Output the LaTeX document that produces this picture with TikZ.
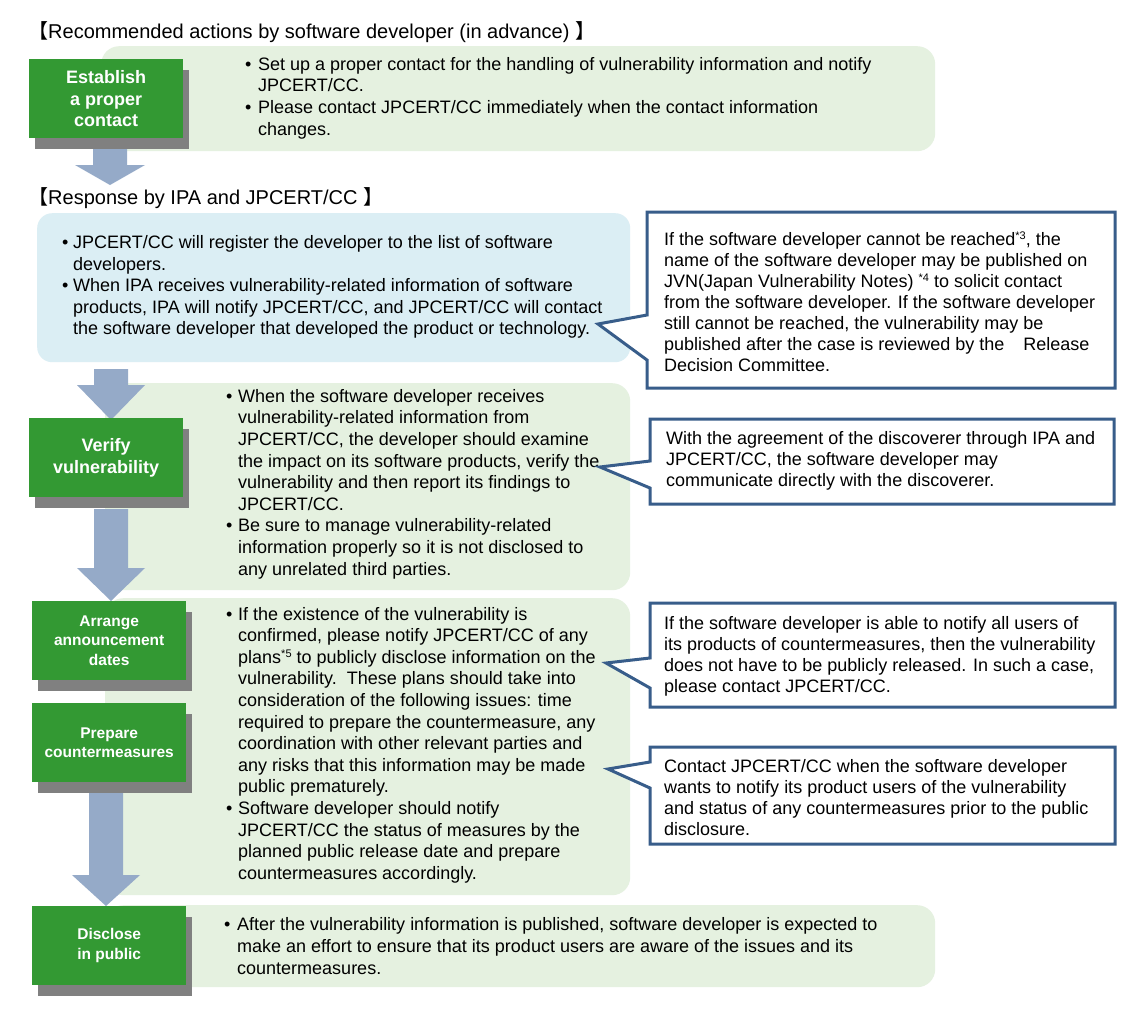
\documentclass[tikz,border=0pt]{standalone}
\usepackage{fontspec}
\setmainfont{Liberation Sans}
\newfontfamily\cjk{Noto Sans CJK JP}
\usetikzlibrary{calc,shadows}
\definecolor{gfill}{RGB}{51,153,51}
\definecolor{shgray}{RGB}{128,128,128}
\definecolor{arrcol}{RGB}{149,170,200}
\definecolor{lgreen}{RGB}{229,241,224}
\definecolor{lblue}{RGB}{219,238,244}
\definecolor{cline}{RGB}{56,93,138}
\newcommand\bul[1]{\makebox[#1][l]{•}}
\newcommand\supr[1]{\raisebox{6pt}{\fontsize{11}{11}\selectfont #1}}
\newcommand\bigarrowdraw[4]{\fill[arrcol] ($(#1)+(-17,0)$) -- ($(#1)+(17,0)$) -- ($(#2)+(17,-#3)$) -- ($(#2)+(#4,-#3)$) -- (#2) -- ($(#2)+(-#4,-#3)$) -- ($(#2)+(-17,-#3)$) -- cycle;}
\newcommand\calloutpath[1]{\draw[callout] (#1nw) -- (#1nw -| #1se) -- (#1se) -- (#1se -| #1nw) -- (#1l) -- (#1tip) -- (#1u) -- cycle;}
\begin{document}
\begin{tikzpicture}[x=1pt,y=-1pt,
  lgbox/.style={fill=lgreen, rounded corners=18pt, inner sep=0pt, anchor=north west},
  bbox/.style={fill=lblue, rounded corners=15pt, inner sep=0pt, anchor=north west},
  gnode/.style={fill=gfill, text=white, align=center, inner sep=0pt, anchor=north west, minimum width=154pt, minimum height=79pt, drop shadow={shadow xshift=6pt, shadow yshift=-11pt, fill=shgray, opacity=1}},
  gbig/.style={gnode, font=\bfseries\fontsize{18}{21.5}\selectfont},
  gsmall/.style={gnode, font=\bfseries\fontsize{15.5}{19.5}\selectfont},
  btext/.style={anchor=west, align=left, inner sep=0pt, font=\fontsize{18}{21.6}\selectfont},
  ctext/.style={anchor=west, align=left, inner sep=0pt, font=\fontsize{18}{21}\selectfont},
  hdr/.style={anchor=west, inner sep=0pt, font=\fontsize{20}{24}\selectfont},
  callout/.style={draw=cline, line width=3pt, fill=white, line join=miter},
]
\useasboundingbox[fill=white] (0,0) rectangle (1145,1023);

% headers
\node[hdr] (h1) at (28,32) {{\cjk 【}Recommended actions by software developer (in advance) {\cjk 】}};
\node[hdr] (h2) at (28,198) {{\cjk 【}Response by IPA and JPCERT/CC {\cjk 】}};

% background boxes
\node[lgbox, minimum width=834pt, minimum height=105pt] (b1) at (101,46) {};
\node[bbox, minimum width=593pt, minimum height=149pt] (bb) at (37,213) {};
\node[lgbox, minimum width=525pt, minimum height=207pt] (b2) at (105,383) {};
\node[lgbox, minimum width=525pt, minimum height=297pt] (b3) at (105,598) {};
\node[lgbox, minimum width=830pt, minimum height=82pt] (b5) at (105,905) {};

% flow arrows
\coordinate (a1s) at (110,149); \coordinate (a1e) at (110,185);
\coordinate (a2s) at (111,369); \coordinate (a2e) at (111,420);
\coordinate (a3s) at (111,509); \coordinate (a3e) at (111,601);
\coordinate (a4s) at (106,792); \coordinate (a4e) at (106,906);
\bigarrowdraw{a1s}{a1e}{20}{35}
\bigarrowdraw{a2s}{a2e}{35}{34}
\bigarrowdraw{a3s}{a3e}{33}{34}
\bigarrowdraw{a4s}{a4e}{31}{34}

% green step nodes
\node[gbig] (n1) at (29,59) {Establish\\a proper\\contact};
\node[gbig] (n2) at (29,418) {Verify\\vulnerability};
\node[gsmall] (n3) at (32,601) {Arrange\\announcement\\dates};
\node[gsmall] (n4) at (32,703) {Prepare\\countermeasures};
\node[gsmall] (n5) at (32,906) {Disclose\\in public};

% box texts
\node[btext] (t1) at (245,98) {\bul{13pt}Set up a proper contact for the handling of vulnerability information and notify\\\hspace*{13pt}JPCERT/CC.\\\bul{13pt}Please contact JPCERT/CC immediately when the contact information\\\hspace*{13pt}changes.};
\node[btext] (tb) at (62,287) {\bul{11pt}JPCERT/CC will register the developer to the list of software\\\hspace*{11pt}developers.\\\bul{11pt}When IPA receives vulnerability-related information of software\\\hspace*{11pt}products, IPA will notify JPCERT/CC, and JPCERT/CC will contact\\\hspace*{11pt}the software developer that developed the product or technology.};
\node[btext] (t2) at (226,484) {\bul{12pt}When the software developer receives\\\hspace*{12pt}vulnerability-related information from\\\hspace*{12pt}JPCERT/CC, the developer should examine\\\hspace*{12pt}the impact on its software products, verify the\\\hspace*{12pt}vulnerability and then report its findings to\\\hspace*{12pt}JPCERT/CC.\\\bul{12pt}Be sure to manage vulnerability-related\\\hspace*{12pt}information properly so it is not disclosed to\\\hspace*{12pt}any unrelated third parties.};
\node[btext] (t3) at (226,745) {\bul{12pt}If the existence of the vulnerability is\\\hspace*{12pt}confirmed, please notify JPCERT/CC of any\\\hspace*{12pt}plans\supr{*5} to publicly disclose information on the\\\hspace*{12pt}vulnerability.\ \ These plans should take into\\\hspace*{12pt}consideration of the following issues: time\\\hspace*{12pt}required to prepare the countermeasure, any\\\hspace*{12pt}coordination with other relevant parties and\\\hspace*{12pt}any risks that this information may be made\\\hspace*{12pt}public prematurely.\\\bul{12pt}Software developer should notify\\\hspace*{12pt}JPCERT/CC the status of measures by the\\\hspace*{12pt}planned public release date and prepare\\\hspace*{12pt}countermeasures accordingly.};
\node[btext] (t5) at (224,946) {\bul{13pt}After the vulnerability information is published, software developer is expected to\\\hspace*{13pt}make an effort to ensure that its product users are aware of the issues and its\\\hspace*{13pt}countermeasures.};

% callouts
\coordinate (c1nw) at (647,212); \coordinate (c1se) at (1115,388);
\coordinate (c1u) at (647,315); \coordinate (c1tip) at (598,324); \coordinate (c1l) at (647,360);
\coordinate (c2nw) at (650,419); \coordinate (c2se) at (1114,504);
\coordinate (c2u) at (650,461); \coordinate (c2tip) at (600,467); \coordinate (c2l) at (650,488);
\coordinate (c3nw) at (650,603); \coordinate (c3se) at (1115,707);
\coordinate (c3u) at (650,658); \coordinate (c3tip) at (606,663); \coordinate (c3l) at (650,688);
\coordinate (c4nw) at (650,747); \coordinate (c4se) at (1115,844);
\coordinate (c4u) at (650,762); \coordinate (c4tip) at (608,769); \coordinate (c4l) at (650,788);
\calloutpath{c1}
\calloutpath{c2}
\calloutpath{c3}
\calloutpath{c4}

\node[ctext] (ct1) at (664,302) {If the software developer cannot be reached\supr{*3}, the\\name of the software developer may be published on\\JVN(Japan Vulnerability Notes) \supr{*4} to solicit contact\\from the software developer. If the software developer\\still cannot be reached, the vulnerability may be\\published after the case is reviewed by the\hspace{14pt} Release\\Decision Committee.};
\node[ctext] (ct2) at (666,461) {With the agreement of the discoverer through IPA and\\JPCERT/CC, the software developer may\\communicate directly with the discoverer.};
\node[ctext] (ct3) at (664,656) {If the software developer is able to notify all users of\\its products of countermeasures, then the vulnerability\\does not have to be publicly released. In such a case,\\please contact JPCERT/CC.};
\node[ctext] (ct4) at (664,798) {Contact JPCERT/CC when the software developer\\wants to notify its product users of the vulnerability\\and status of any countermeasures prior to the public\\disclosure.};
\end{tikzpicture}
\end{document}
